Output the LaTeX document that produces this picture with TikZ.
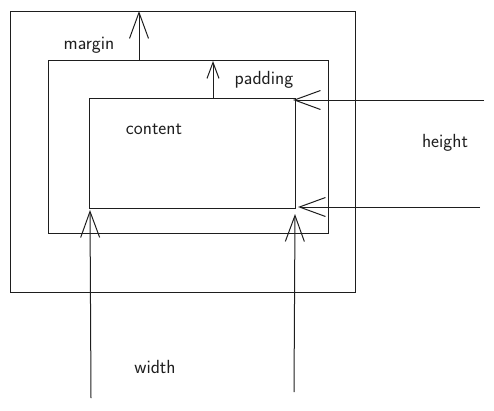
\documentclass[tikz,border=0pt]{standalone}
\usepackage{fontspec}
\usepackage{xcolor}
\usetikzlibrary{calc,arrows.meta}
\definecolor{ink}{HTML}{1E1E1E}

\begin{document}
\begin{tikzpicture}[x=1pt,y=-1pt,
  line/.style={draw=ink,line width=1pt},
  arr/.style={line,-{Straight Barb[length=26pt,width=19pt,line width=1pt]}},
  smallarr/.style={line,-{Straight Barb[length=16pt,width=12pt,line width=1pt]}},
  lbl/.style={text=ink,font=\sffamily\fontsize{19}{22}\selectfont,inner sep=0pt}]

\useasboundingbox (0,0) rectangle (494,410);

% boxes
\coordinate (outerNW) at (10,11);
\coordinate (outerSE) at (355,292);
\coordinate (midNW) at (48,60);
\coordinate (midSE) at (328,233);
\coordinate (contNW) at (89,98);
\coordinate (contSE) at (295,208);

\draw[line] (outerNW) rectangle (outerSE);
\draw[line] (midNW) rectangle (midSE);
\draw[line] (contNW) rectangle (contSE);

% arrow ends
\coordinate (marginA) at (139,60);
\coordinate (marginB) at (139,11);
\coordinate (padA) at (213,98);
\coordinate (padB) at (213,61);
\coordinate (htA) at (484,100);
\coordinate (htB) at (293,100);
\coordinate (hbA) at (480,207);
\coordinate (hbB) at (298,207);
\coordinate (wlA) at (91,398);
\coordinate (wlB) at (90,210);
\coordinate (wrA) at (294,392);
\coordinate (wrB) at (295,214);

\draw[arr] (marginA) -- (marginB);
\draw[smallarr] (padA) -- (padB);
\draw[arr] (htA) -- (htB);
\draw[arr] (hbA) -- (hbB);
\draw[arr] (wlA) -- (wlB);
\draw[arr] (wrA) -- (wrB);

% labels
\node[lbl] (margin) at (89,45) {margin};
\node[lbl] (padding) at (264,80) {padding};
\node[lbl] (content) at (154,129) {content};
\node[lbl] (height) at (445,143) {height};
\node[lbl] (width) at (155,367) {width};

\end{tikzpicture}
\end{document}
